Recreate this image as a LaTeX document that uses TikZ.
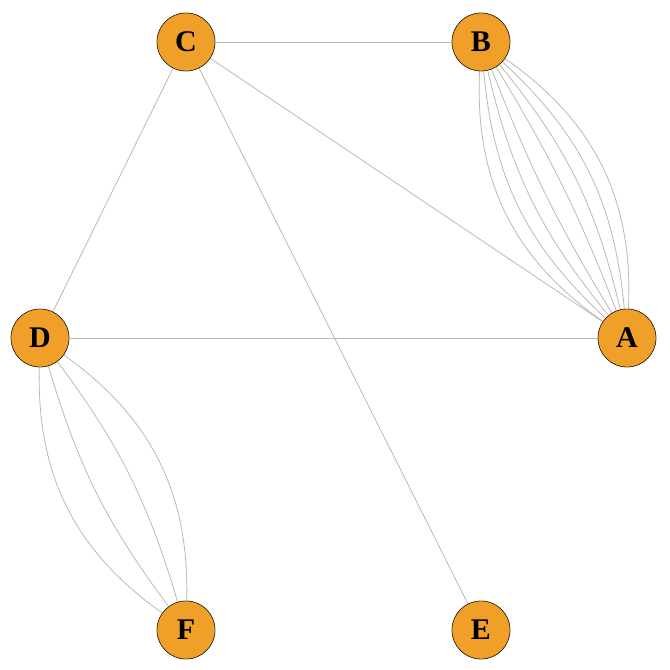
\documentclass[tikz,border=0pt]{standalone}
\usepackage{fontspec}
\setmainfont{Liberation Serif}
\begin{document}
\begin{tikzpicture}[x=1pt,y=-1pt,
  vtx/.style={circle,draw=black,fill=orange!75!brown!90!yellow,minimum size=58pt,inner sep=0pt,font=\fontsize{30}{30}\selectfont\bfseries},
  edge/.style={draw=gray!55,line width=0.8pt}]
\useasboundingbox (0,0) rectangle (670,670);
\definecolor{vfill}{RGB}{240,160,40}
\tikzset{vtx/.append style={fill=vfill}}
\node[vtx] (C) at (186,42) {C};
\node[vtx] (B) at (481,42) {B};
\node[vtx] (D) at (40,338) {D};
\node[vtx] (A) at (627,338) {A};
\node[vtx] (F) at (186,630) {F};
\node[vtx] (E) at (481,630) {E};
\begin{scope}[on background layer/.style={}]
\end{scope}
\begin{pgfonlayer}{main}\end{pgfonlayer}
\draw[edge] (C) -- (B);
\draw[edge] (C) -- (A);
\draw[edge] (C) -- (D);
\draw[edge] (C) -- (E);
\draw[edge] (D) -- (A);
\foreach \b in {5,13,21,29}{
  \draw[edge] (B.center) ++(0,0) (B) to[bend left=\b] (A);
  \draw[edge] (B) to[bend right=\b] (A);
}
\foreach \b in {10,28}{
  \draw[edge] (D) to[bend left=\b] (F);
  \draw[edge] (D) to[bend right=\b] (F);
}
\foreach \n/\t in {C/C,B/B,D/D,A/A,F/F,E/E}{
  \node[vtx] at (\n) {\t};
}
\end{tikzpicture}
\end{document}
